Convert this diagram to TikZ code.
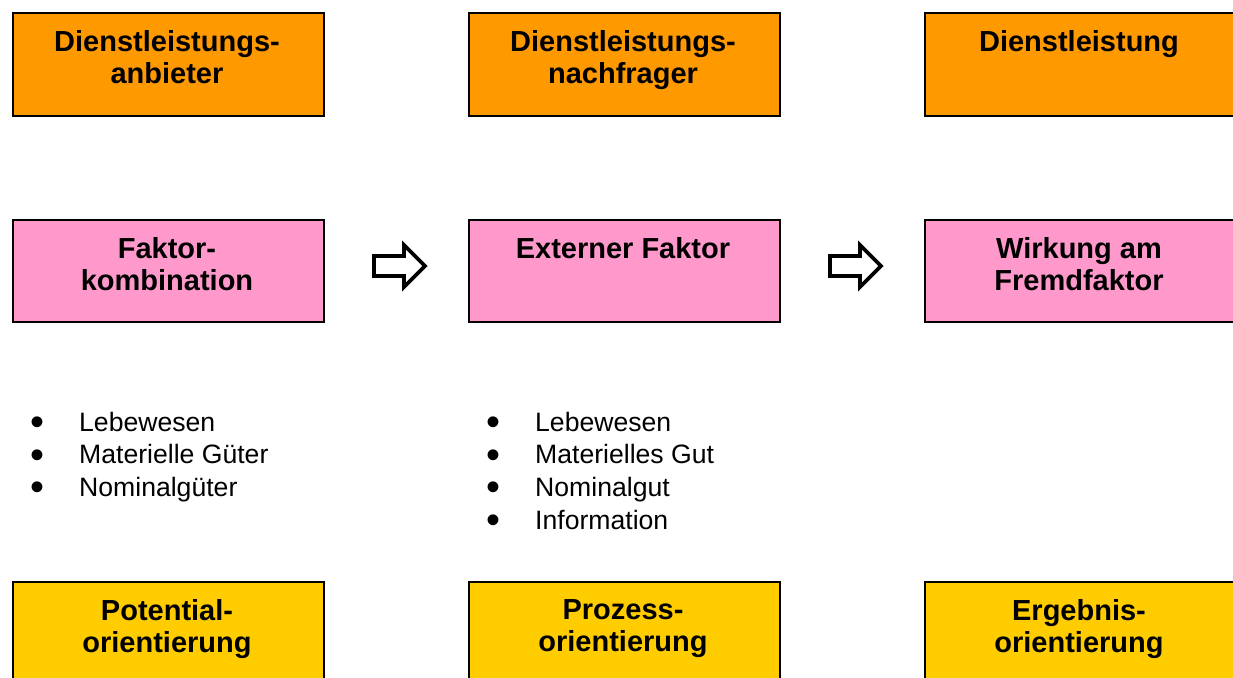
\documentclass[tikz,border=0pt]{standalone}
\usepackage{fontspec}
\setmainfont{Liberation Sans}
\definecolor{orangebox}{HTML}{FF9900}
\definecolor{pinkbox}{HTML}{FF99CC}
\definecolor{yellowbox}{HTML}{FFCC00}
\newcommand{\bul}{\makebox[42pt][l]{\makebox[0pt][c]{\smash{\raisebox{-4.5pt}{\scalebox{1.5}{\textbullet}}}}}}
\begin{document}
\begin{tikzpicture}[x=1pt,y=-1pt,
  box/.style={draw=black,line width=2pt,rectangle,inner sep=0pt,anchor=north west,minimum width=311pt,minimum height=102pt},
  label/.style={anchor=north,inner sep=0pt,align=center,font=\bfseries\fontsize{29}{32}\selectfont},
  blist/.style={anchor=base west,inner sep=0pt,font=\fontsize{26.6}{32.7}\selectfont},
  blockarrow/.style={draw=black,line width=3.6pt,fill=white,line join=miter}]
\useasboundingbox (0,0) rectangle (1233,677);
\clip (0,0) rectangle (1233,677);
% top row
\node[box,fill=orangebox] (b1) at (11.5,12.5) {};
\node[box,fill=orangebox] (b2) at (467.5,12.5) {};
\node[box,fill=orangebox,minimum width=330pt] (b3) at (923.5,12.5) {};
\node[label] (t1) at (167,30) {Dienstleistungs-\\anbieter};
\node[label] (t2) at (623,30) {Dienstleistungs-\\nachfrager};
\node[label] (t3) at (1079,30) {Dienstleistung};
% middle row
\node[box,fill=pinkbox] (m1) at (11.5,218.5) {};
\node[box,fill=pinkbox] (m2) at (467.5,218.5) {};
\node[box,fill=pinkbox,minimum width=330pt] (m3) at (923.5,218.5) {};
\node[label] (u1) at (167,237) {Faktor-\\kombination};
\node[label] (u2) at (623,237) {Externer Faktor};
\node[label] (u3) at (1079,237) {Wirkung am\\Fremdfaktor};
% arrows
\draw[blockarrow] (374,256) coordinate (a1) -- (404,256) -- (404,245) -- (425,266) -- (404,287) -- (404,276) -- (374,276) -- cycle;
\draw[blockarrow] (830,256) coordinate (a2) -- (860,256) -- (860,245) -- (881,266) -- (860,287) -- (860,276) -- (830,276) -- cycle;
% lists
\node[blist] (l1) at (37,431) {\begin{tabular}[t]{@{}l@{}}
\bul Lebewesen\\
\bul Materielle Güter\\
\bul Nominalgüter
\end{tabular}};
\node[blist] (l2) at (493,431) {\begin{tabular}[t]{@{}l@{}}
\bul Lebewesen\\
\bul Materielles Gut\\
\bul Nominalgut\\
\bul Information
\end{tabular}};
% bottom row
\node[box,fill=yellowbox,minimum height=120pt] (y1) at (11.5,580.5) {};
\node[box,fill=yellowbox,minimum height=120pt] (y2) at (467.5,580.5) {};
\node[box,fill=yellowbox,minimum width=330pt,minimum height=120pt] (y3) at (923.5,580.5) {};
\node[label] (v1) at (167,599) {Potential-\\orientierung};
\node[label] (v2) at (623,599) {Prozess-\\orientierung};
\node[label] (v3) at (1079,599) {Ergebnis-\\orientierung};
\end{tikzpicture}
\end{document}
